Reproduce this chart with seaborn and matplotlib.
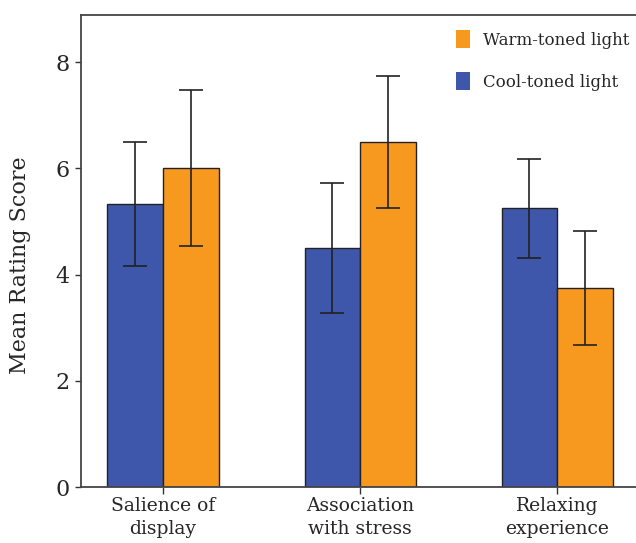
import matplotlib

matplotlib.use("Agg")
import matplotlib.pyplot as plt
import pandas as pd
import seaborn as sns

# Values
categories = ["Salience of\ndisplay", "Association\nwith stress", "Relaxing\nexperience"]
cool_means = [5.33, 4.50, 5.25]
cool_sd = [1.17, 1.22, 0.93]
warm_means = [6.00, 6.50, 3.75]
warm_sd = [1.47, 1.25, 1.08]
conditions = ["Cool-toned light", "Warm-toned light"]
colors = {"Cool-toned light": "#3E57AB", "Warm-toned light": "#F7991F"}

sns.set_theme(style="white")
plt.rcParams["font.family"] = ["DejaVu Serif"]

df = pd.DataFrame(
    {
        "category": categories * 2,
        "condition": [conditions[0]] * 3 + [conditions[1]] * 3,
        "mean": cool_means + warm_means,
        "sd": cool_sd + warm_sd,
    }
)

fig = plt.figure(figsize=(6.36, 5.43), dpi=100)
ax = fig.add_axes([0.1274, 0.1031, 0.8726, 0.8693])

sns.barplot(
    data=df,
    x="category",
    y="mean",
    hue="condition",
    hue_order=conditions,
    palette=colors,
    saturation=1,
    width=0.564,
    gap=0,
    edgecolor="#222222",
    linewidth=1.0,
    errorbar=None,
    legend=False,
    ax=ax,
)

# Error bars (SD) at each bar centre
for container, cond in zip(ax.containers, conditions):
    sub = df[df["condition"] == cond]
    xs = [p.get_x() + p.get_width() / 2 for p in container.patches]
    ax.errorbar(
        xs,
        sub["mean"].values,
        yerr=sub["sd"].values,
        fmt="none",
        ecolor="#222222",
        elinewidth=1.2,
        capsize=8.5,
        capthick=1.2,
        zorder=5,
    )

ax.set_ylim(0, 8.89)
ax.set_xlim(-0.416, 2.40)
ax.set_yticks([0, 2, 4, 6, 8])
ax.set_xlabel("")
ax.set_ylabel("Mean Rating Score", fontsize=16)
ax.yaxis.set_label_coords(-0.09, 0.47)
ax.tick_params(axis="y", labelsize=16, length=4, width=1, color="#333333", left=True, pad=4)
ax.tick_params(axis="x", labelsize=13.5, length=5, width=1, color="#333333", bottom=True, pad=2)
for lbl in ax.get_xticklabels():
    lbl.set_linespacing(1.35)

for side in ["top", "left", "bottom"]:
    ax.spines[side].set_color("#444444")
    ax.spines[side].set_linewidth(1.3)
ax.spines["right"].set_visible(False)

# Legend: warm first, then cool
handles = [
    plt.Rectangle((0, 0), 1, 1, facecolor=colors["Warm-toned light"], edgecolor="none"),
    plt.Rectangle((0, 0), 1, 1, facecolor=colors["Cool-toned light"], edgecolor="none"),
]
ax.legend(
    handles,
    ["Warm-toned light", "Cool-toned light"],
    loc="upper right",
    bbox_to_anchor=(1.015, 1.0),
    frameon=False,
    fontsize=12,
    handlelength=0.8,
    handleheight=1.3,
    handletextpad=0.8,
    labelspacing=1.4,
    alignment="left",
)

fig.savefig("out.png", dpi=100)
